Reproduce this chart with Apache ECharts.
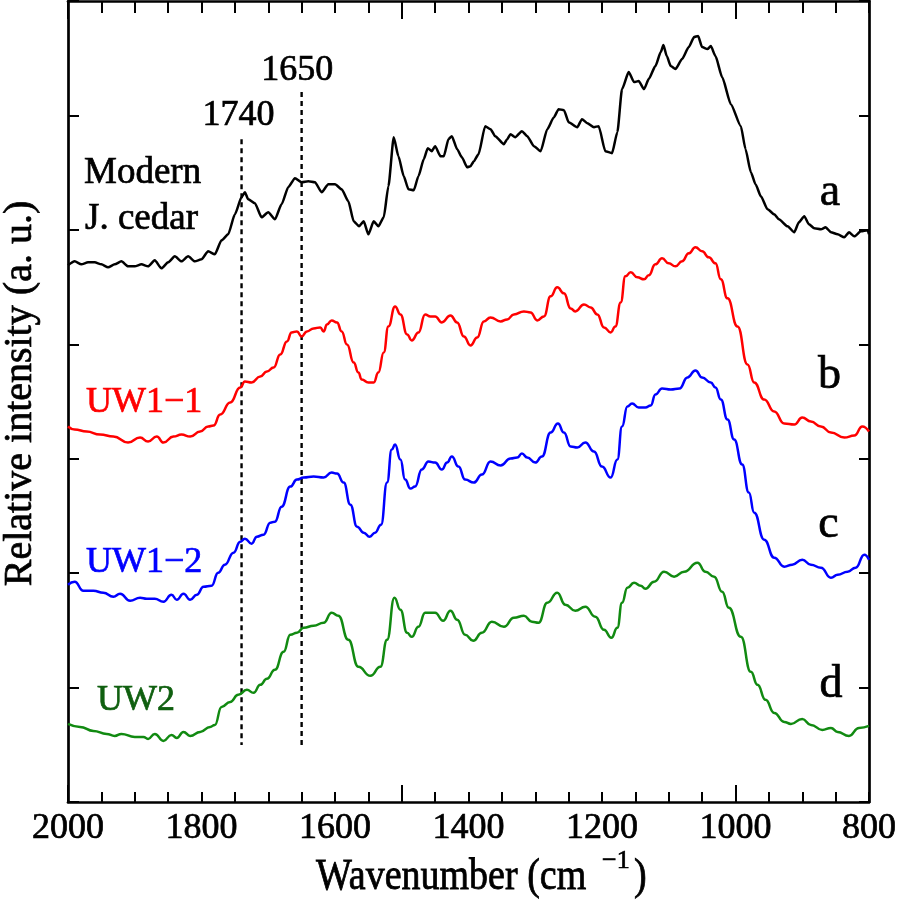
<!DOCTYPE html>
<html>
<head>
<meta charset="utf-8">
<script src="https://cdn.jsdelivr.net/npm/echarts@6/dist/echarts.min.js"></script>
<style>
html,body{margin:0;padding:0;background:#fff;}
#chart{width:898px;height:907px;}
</style>
</head>
<body>
<div id="chart"></div>
<script>
// ---- Data (wavenumber in cm^-1, relative intensity in arbitrary offset units) ----
const xLabelValues = [2000, 1800, 1600, 1400, 1200, 1000, 800];
const xMajorTickValues = [2000, 1500, 1000];

const guideWaves = [1740, 1650];
const guideTop = [662, 709];
const guideBottom = [57, 57];

// a: Modern J. cedar (black)
const aWave = [2000,1990,1980,1970,1960,1950,1940,1930,1920,1910,1900,1890,1880,1870,1860,1850,1840,1830,1820,1810,1800,1790,1780,1770,1760,1750,1740,1735,1730,1720,1710,1700,1690,1680,1670,1660,1650,1640,1630,1620,1610,1600,1590,1580,1572,1564,1557,1550,1542,1535,1527,1520,1512,1505,1497,1490,1482,1475,1467,1461,1455,1450,1442,1437,1430,1425,1417,1410,1402,1397,1392,1385,1375,1367,1360,1347,1342,1337,1330,1320,1312,1302,1292,1282,1272,1265,1257,1250,1237,1230,1222,1212,1205,1195,1185,1177,1170,1160,1152,1145,1137,1130,1120,1112,1108,1103,1097,1090,1080,1070,1062,1056,1050,1042,1037,1030,1020,1007,992,985,977,970,962,952,942,935,922,912,905,897,890,882,872,865,857,847,837,830,822,812,802,800];
const aIntensity = [536,540,537,539,539,537,534,537,540,535,535,537,535,541,533,539,545,540,545,540,542,550,547,561,567,587,604,609,602,598,584,589,582,597,614,623,619,620,619,609,617,617,612,600,580,575,580,567,580,575,584,615,664,645,625,612,611,625,642,653,650,655,645,645,662,665,652,644,634,635,640,647,675,672,665,657,662,667,664,670,665,655,650,672,684,692,691,679,674,682,678,674,675,650,648,669,712,729,719,720,712,722,735,749,756,745,735,732,742,754,764,765,754,752,755,745,724,697,675,652,629,617,605,592,587,582,575,569,579,585,577,573,572,574,569,567,564,569,565,570,571,567];

// b: UW1-1 (red)
const bWave = [2000,1990,1972,1952,1932,1910,1892,1880,1867,1857,1842,1830,1817,1802,1790,1782,1772,1757,1742,1735,1725,1712,1702,1692,1682,1672,1665,1657,1650,1642,1632,1622,1617,1612,1605,1597,1590,1582,1572,1565,1560,1550,1542,1535,1527,1520,1510,1502,1492,1485,1475,1465,1457,1450,1440,1427,1417,1407,1397,1387,1377,1367,1352,1342,1332,1317,1307,1297,1287,1277,1267,1257,1247,1240,1227,1217,1207,1197,1187,1180,1172,1165,1157,1147,1137,1130,1120,1110,1100,1090,1080,1070,1060,1050,1040,1030,1022,1012,997,982,972,957,942,927,912,900,887,872,857,837,822,810,800];
const bIntensity = [375,372,370,367,365,359,364,360,365,359,365,367,365,370,375,376,387,399,414,420,419,425,430,434,447,460,469,470,465,470,473,474,470,477,481,479,470,457,439,429,422,419,419,429,449,475,495,487,467,461,469,487,485,485,479,486,479,465,456,464,480,484,480,482,487,490,489,481,485,505,514,508,493,490,497,494,487,474,469,475,499,525,529,524,522,526,537,543,538,535,540,548,554,550,544,538,522,503,475,437,419,402,390,378,377,384,380,375,369,364,366,375,370];

// c: UW1-2 (blue)
const cWave = [2000,1990,1977,1962,1947,1932,1922,1907,1892,1882,1870,1857,1845,1837,1827,1817,1807,1797,1785,1775,1765,1752,1742,1735,1725,1717,1707,1697,1690,1680,1667,1657,1647,1632,1617,1605,1597,1587,1577,1567,1557,1548,1540,1531,1522,1515,1510,1502,1495,1487,1480,1470,1460,1450,1440,1432,1425,1415,1405,1392,1380,1367,1352,1337,1327,1320,1312,1300,1290,1277,1266,1257,1247,1237,1225,1212,1200,1187,1177,1170,1162,1155,1145,1135,1127,1120,1110,1097,1084,1072,1060,1050,1037,1030,1022,1012,1002,990,980,972,957,942,927,915,900,887,872,857,847,832,820,807,800];
const cIntensity = [217,220,211,211,209,205,208,201,204,203,203,200,207,202,208,202,207,215,216,229,237,249,260,263,258,265,267,279,280,295,315,322,324,325,324,329,328,319,297,275,269,265,269,277,319,352,357,342,322,313,315,332,340,339,332,339,345,335,322,319,327,340,336,343,344,348,344,339,345,369,378,369,355,354,359,350,335,324,342,375,395,398,394,394,396,407,413,412,413,424,431,424,419,414,402,382,362,337,309,289,262,244,235,237,242,237,234,224,227,230,234,247,242];

// d: UW2 (green)
const dWave = [2000,1982,1962,1942,1930,1920,1900,1887,1880,1870,1857,1845,1837,1827,1817,1802,1787,1780,1770,1757,1745,1732,1722,1712,1702,1690,1677,1667,1657,1647,1632,1617,1605,1595,1580,1565,1547,1532,1522,1511,1502,1492,1485,1475,1465,1450,1438,1427,1417,1405,1393,1380,1365,1347,1332,1317,1305,1295,1282,1267,1255,1240,1225,1210,1197,1186,1177,1170,1162,1152,1142,1135,1122,1107,1092,1077,1057,1045,1032,1020,1010,992,977,967,955,942,927,917,900,887,870,857,847,830,815,800];
const dIntensity = [78,75,71,68,66,68,65,65,63,68,61,67,64,70,66,70,75,77,95,100,107,112,109,117,123,132,150,167,169,174,176,179,189,186,162,135,126,135,162,204,192,169,165,175,189,189,181,191,182,167,161,169,180,175,184,186,180,179,199,209,197,191,195,185,172,164,174,199,214,219,216,213,220,230,225,230,239,230,225,210,194,165,130,117,102,89,80,78,83,77,72,74,70,66,74,76];

const seriesNames = ['a', 'b', 'c', 'd'];
const sampleLabels = ['UW1\u22121', 'UW1\u22122', 'UW2'];

// ---- Chart ----
const SERIF = "Liberation Serif";
const TEXT_BORDER = 0.7;
const chart = echarts.init(document.getElementById('chart'), null, {renderer: 'canvas'});

function pairs(w, v) { return w.map((x, i) => [x, v[i]]); }

const xBase = {
  type: 'value', min: 800, max: 2000, inverse: true, gridIndex: 0,
  splitLine: {show: false}
};
const axisLineStyle = {show: true, onZero: false, lineStyle: {color: '#000', width: 2.7}};

const guideSeries = guideWaves.map((w, i) => ({
  type: 'line',
  xAxisIndex: 0, yAxisIndex: 0,
  silent: true,
  showSymbol: true,
  symbol: 'circle',
  symbolSize: 0,
  z: 1,
  lineStyle: {color: '#000', width: 2.4, type: [5, 4]},
  itemStyle: {color: '#000'},
  label: {show: false},
  data: [
    {value: [w, guideTop[i]], label: {
      show: true, position: 'top', distance: i === 0 ? 6 : 4,
      offset: [i === 0 ? -3 : -4.5, 0],
      formatter: String(w), fontSize: 36, fontFamily: SERIF, color: '#000',
      textBorderColor: '#000', textBorderWidth: TEXT_BORDER
    }},
    {value: [w, guideBottom[i]]}
  ]
}));

const curveColors = ['#000000', '#ff0000', '#0000ff', '#118a11'];
const curveData = [pairs(aWave, aIntensity), pairs(bWave, bIntensity), pairs(cWave, cIntensity), pairs(dWave, dIntensity)];

const curveSeries = curveData.map((d, i) => ({
  name: seriesNames[i],
  type: 'line',
  xAxisIndex: 0, yAxisIndex: 0,
  showSymbol: false,
  smooth: i === 0 ? 0.2 : 0.5,
  smoothMonotone: 'x',
  z: 3,
  lineStyle: {color: curveColors[i], width: 2.5},
  data: d
}));

const textStyle = (txt, size, color, align) => ({
  text: txt, font: size + 'px "' + SERIF + '"', fill: color,
  stroke: color, lineWidth: TEXT_BORDER,
  textAlign: align || 'left', textVerticalAlign: 'middle',
  align: align || 'left', verticalAlign: 'middle'
});

const option = {
  animation: false,
  backgroundColor: '#ffffff',
  grid: {left: 68, top: 1, width: 801, height: 801, containLabel: false, outerBoundsMode: 'none'},
  xAxis: [
    Object.assign({}, xBase, {
      position: 'bottom', interval: 50,
      axisLine: axisLineStyle,
      axisTick: {show: true, inside: true, length: 10, lineStyle: {color: '#000', width: 2}},
      axisLabel: {show: true, customValues: xLabelValues, formatter: (v) => String(v), margin: 9, fontSize: 36, fontFamily: SERIF, color: '#000', textBorderColor: '#000', textBorderWidth: TEXT_BORDER}
    }),
    Object.assign({}, xBase, {
      position: 'bottom',
      axisLine: {show: false, onZero: false},
      axisTick: {show: true, inside: true, length: 17, customValues: xMajorTickValues, lineStyle: {color: '#000', width: 2}},
      axisLabel: {show: false}
    }),
    Object.assign({}, xBase, {
      position: 'top', interval: 50,
      axisLine: axisLineStyle,
      axisTick: {show: true, inside: true, length: 12, lineStyle: {color: '#000', width: 2}},
      axisLabel: {show: false}
    }),
    Object.assign({}, xBase, {
      position: 'top',
      axisLine: {show: false, onZero: false},
      axisTick: {show: true, inside: true, length: 18, customValues: xMajorTickValues, lineStyle: {color: '#000', width: 2}},
      axisLabel: {show: false}
    })
  ],
  yAxis: [
    {
      type: 'value', position: 'left', min: 0, max: 800, interval: 800 / 7,
      axisLine: axisLineStyle,
      axisTick: {show: true, inside: true, length: 11, lineStyle: {color: '#000', width: 2}},
      axisLabel: {show: false},
      splitLine: {show: false}
    },
    {
      type: 'value', position: 'right', min: 0, max: 800, interval: 800 / 7,
      axisLine: axisLineStyle,
      axisTick: {show: true, inside: true, length: 10, lineStyle: {color: '#000', width: 2}},
      axisLabel: {show: false},
      splitLine: {show: false}
    }
  ],
  series: guideSeries.concat(curveSeries),
  graphic: [
    {type: 'text', x: 84, y: 173, z: 10, style: textStyle('Modern', 37, '#000')},
    {type: 'text', x: 85, y: 219, z: 10, style: textStyle('J. cedar', 37, '#000')},
    {type: 'text', x: 86, y: 403, z: 10, style: textStyle(sampleLabels[0], 36, '#ff0000')},
    {type: 'text', x: 86, y: 563, z: 10, style: textStyle(sampleLabels[1], 36, '#0000ff')},
    {type: 'text', x: 97, y: 701, z: 10, style: textStyle(sampleLabels[2], 36, '#0f5f0f')},
    {type: 'text', x: 830, y: 192.5, z: 10, style: textStyle(seriesNames[0], 46, '#000', 'center')},
    {type: 'text', x: 829.5, y: 375.5, z: 10, style: textStyle(seriesNames[1], 46, '#000', 'center')},
    {type: 'text', x: 828.5, y: 524.5, z: 10, style: textStyle(seriesNames[2], 46, '#000', 'center')},
    {type: 'text', x: 831, y: 684.5, z: 10, style: textStyle(seriesNames[3], 46, '#000', 'center')},
    {type: 'text', x: 316, y: 878, scaleY: 1.15, z: 10, style: textStyle('Wavenumber (cm', 38, '#000')},
    {type: 'text', x: 602, y: 861, z: 10, style: textStyle('\u22121', 26, '#000')},
    {type: 'text', x: 634, y: 878, scaleY: 1.15, z: 10, style: textStyle(')', 38, '#000')},
    {type: 'text', x: 20.5, y: 393.5, rotation: Math.PI / 2, z: 10, style: textStyle('Relative intensity (a. u.)', 40, '#000', 'center')}
  ]
};

chart.setOption(option);
</script>
</body>
</html>
